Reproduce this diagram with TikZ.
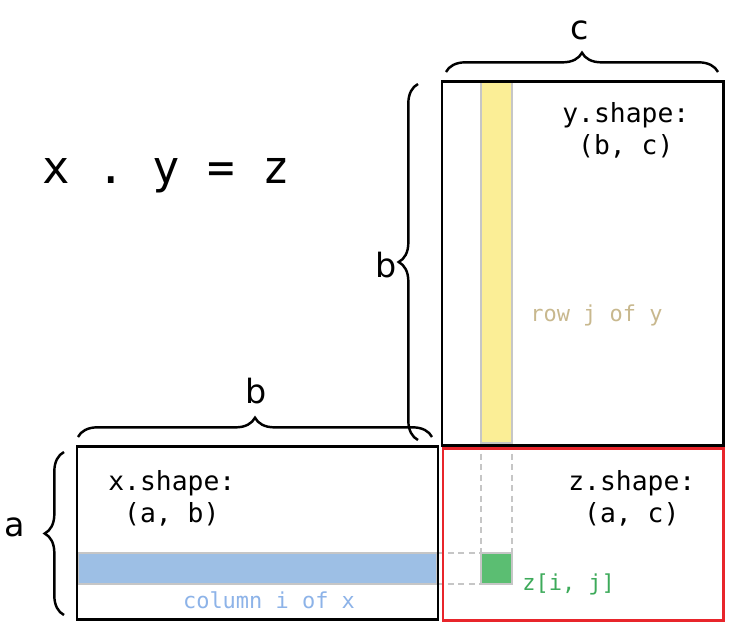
\documentclass[tikz,border=0pt]{standalone}
\usepackage{fontspec}
\setmainfont{DejaVu Sans}
\setmonofont{DejaVu Sans Mono}
\usetikzlibrary{decorations.pathreplacing}

\definecolor{colblue}{HTML}{9DBFE5}
\definecolor{rowyellow}{HTML}{FBEE96}
\definecolor{cellgreen}{HTML}{5BBE72}
\definecolor{txtgreen}{HTML}{3DAA5A}
\definecolor{txtblue}{HTML}{8DB3E8}
\definecolor{txttan}{HTML}{C8B88E}
\definecolor{zred}{HTML}{E8252B}

\begin{document}
\begin{tikzpicture}[
    x=0.02cm, y=-0.02cm,
    box/.style={draw=black, line width=1.7pt},
    zbox/.style={draw=zred, line width=1.7pt},
    bar/.style={draw=gray!45, line width=0.9pt},
    guide/.style={draw=gray!45, line width=0.9pt, dash pattern=on 3.5pt off 2.5pt},
    curly/.style={decorate, decoration={brace, amplitude=11pt}, line width=1.4pt},
    dim/.style={font=\fontsize{19}{22}\selectfont, inner sep=0pt},
    code/.style={font=\ttfamily\fontsize{15}{18}\selectfont, align=left, inner sep=0pt, anchor=north west},
    hint/.style={font=\ttfamily\fontsize{12.5}{15}\selectfont, inner sep=0pt}
]
    \useasboundingbox (0,0) rectangle (730,630);

    % Corners of the three matrices
    \coordinate (ytl) at (442,81);
    \coordinate (ybr) at (723,445);
    \coordinate (xtl) at (77,446);
    \coordinate (xbr) at (438,619);
    \coordinate (ztl) at (443,448);
    \coordinate (zbr) at (723,620);

    % Row j of y, column i of x, cell z[i, j]
    \draw[bar, fill=rowyellow] (481,82) rectangle (512,443);
    \draw[bar, fill=colblue] (78,553) rectangle (437,584);
    \draw[bar, fill=cellgreen] (481,553) rectangle (512,584);
    \coordinate (rowb) at (481,443);
    \coordinate (rowc) at (512,443);
    \coordinate (colb) at (437,553);
    \coordinate (colc) at (437,584);

    % Guides
    \draw[guide] (rowb) -- (481,553);
    \draw[guide] (rowc) -- (512,553);
    \draw[guide] (colb) -- (481,553);
    \draw[guide] (colc) -- (481,584);

    % Matrices
    \draw[box] (ytl) rectangle (ybr);
    \draw[box] (xtl) rectangle (xbr);
    \draw[zbox] (ztl) rectangle (zbr);

    % Braces
    \draw[curly] (446,72) -- (718,72);
    \draw[curly] (418,440) -- (418,84);
    \draw[curly] (78,437) -- (432,437);
    \draw[curly] (64,615) -- (64,452);

    \node[dim] (dimc) at (580,30) {c};
    \node[dim] (dimby) at (386,265) {b};
    \node[dim] (dimbx) at (256,391) {b};
    \node[dim] (dima) at (15,527) {a};

    % Texts
    \node[font=\ttfamily\fontsize{26}{30}\selectfont, inner sep=0pt] (eq) at (166,176) {x . y = z};
    \node[code] (yshape) at (562,102) {y.shape:\\\phantom{x}(b, c)};
    \node[code] (xshape) at (108,470) {x.shape:\\\phantom{x}(a, b)};
    \node[code] (zshape) at (568,470) {z.shape:\\\phantom{x}(a, c)};
    \node[hint, text=txtblue] (colname) at (269,600) {column i of x};
    \node[hint, text=txttan, anchor=west] (rowname) at (530,315) {row j of y};
    \node[hint, text=txtgreen, anchor=west] (cellname) at (522,584) {z[i, j]};
\end{tikzpicture}
\end{document}
